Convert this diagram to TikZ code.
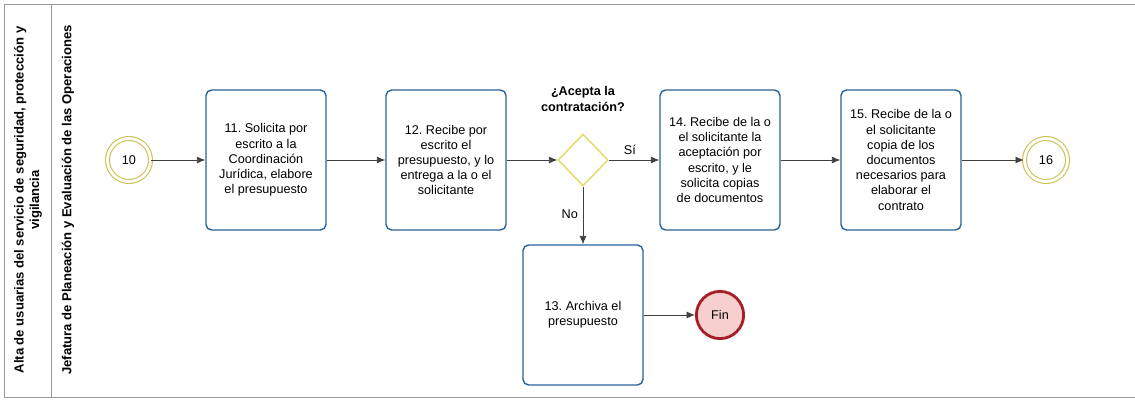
\documentclass[tikz,border=0pt]{standalone}
\usepackage{fontspec}
\setmainfont{Liberation Sans}
\usetikzlibrary{shapes.geometric,arrows.meta}
\frenchspacing

\begin{document}
\begin{tikzpicture}[x=0.025cm,y=-0.025cm]
  % Colors
  \definecolor{taskcolor}{RGB}{40,100,150}
  \definecolor{eventcolor}{RGB}{205,195,85}
  \definecolor{gatecolor}{RGB}{225,218,105}
  \definecolor{endcolor}{RGB}{165,30,40}
  \definecolor{endfill}{RGB}{246,208,206}
  \colorlet{flowcolor}{black!75}
  \colorlet{framecolor}{black!40}

  % Styles
  \tikzstyle{task}=[draw=taskcolor,line width=1pt,rounded corners=4pt,fill=white,minimum width=3cm,minimum height=3.5cm,align=center,font=\fontsize{9}{10.8}\selectfont,inner sep=2pt]
  \tikzstyle{link event}=[circle,draw=eventcolor,double,double distance=2pt,line width=0.8pt,minimum size=1.075cm,inner sep=0pt,font=\fontsize{9}{10}\selectfont]
  \tikzstyle{gateway}=[diamond,draw=gatecolor,line width=1pt,fill=white,minimum width=1.25cm,minimum height=1.3cm,inner sep=0pt]
  \tikzstyle{end event}=[circle,draw=endcolor,fill=endfill,line width=2pt,minimum size=1.18cm,inner sep=0pt,font=\fontsize{9}{10}\selectfont]
  \tikzstyle{flow}=[-{Latex[length=6pt,width=5pt]},draw=flowcolor,line width=0.6pt]
  \tikzstyle{lane text}=[rotate=90,align=center,font=\bfseries\fontsize{9.3}{11}\selectfont]
  \tikzstyle{flow text}=[font=\bfseries\fontsize{9}{10.8}\selectfont,align=center]

  \useasboundingbox (0,0) rectangle (1135,401);

  % Pool and lane
  \draw[framecolor] (1135,4) -- (4,4) -- (4,397) -- (1135,397);
  \draw[framecolor] (51,4) -- (51,397);
  \node[lane text] (pool) at (28,200) {Alta de usuarias del servicio de seguridad, protección y\\vigilancia};
  \node[lane text] (lane) at (68,200) {Jefatura de Planeación y Evaluación de las Operaciones};

  % Nodes
  \node[link event] (e10) at (129,160) {10};
  \node[task] (t11) at (266,160) {11. Solicita por\\escrito a la\\Coordinación\\Jurídica, elabore\\el presupuesto};
  \node[task] (t12) at (446,160) {12. Recibe por\\escrito el\\presupuesto, y lo\\entrega a la o el\\solicitante};
  \node[gateway] (gate) at (583,160) {};
  \node[flow text] (question) at (583,99) {¿Acepta la\\contratación?};
  \node[task] (t14) at (720,160) {14. Recibe de la o\\el solicitante la\\aceptación por\\escrito, y le\\solicita copias\\de documentos};
  \node[task] (t15) at (901,160) {15. Recibe de la o\\el solicitante\\copia de los\\documentos\\necesarios para\\elaborar el\\contrato};
  \node[link event] (e16) at (1046,160) {16};
  \node[task] (t13) at (583,315) {13. Archiva el\\presupuesto};
  \node[end event] (fin) at (720,315) {Fin};

  % Connectors
  \draw[flow] (e10) -- (t11);
  \draw[flow] (t11) -- (t12);
  \draw[flow] (t12) -- (gate);
  \draw[flow] (gate) -- node[above,pos=0.42,font=\fontsize{9}{10}\selectfont] (si) {Sí} (t14);
  \draw[flow] (gate) -- node[left,pos=0.47,font=\fontsize{9}{10}\selectfont] (no) {No} (t13);
  \draw[flow] (t14) -- (t15);
  \draw[flow] (t15) -- (e16);
  \draw[flow] (t13) -- (fin);
\end{tikzpicture}
\end{document}
